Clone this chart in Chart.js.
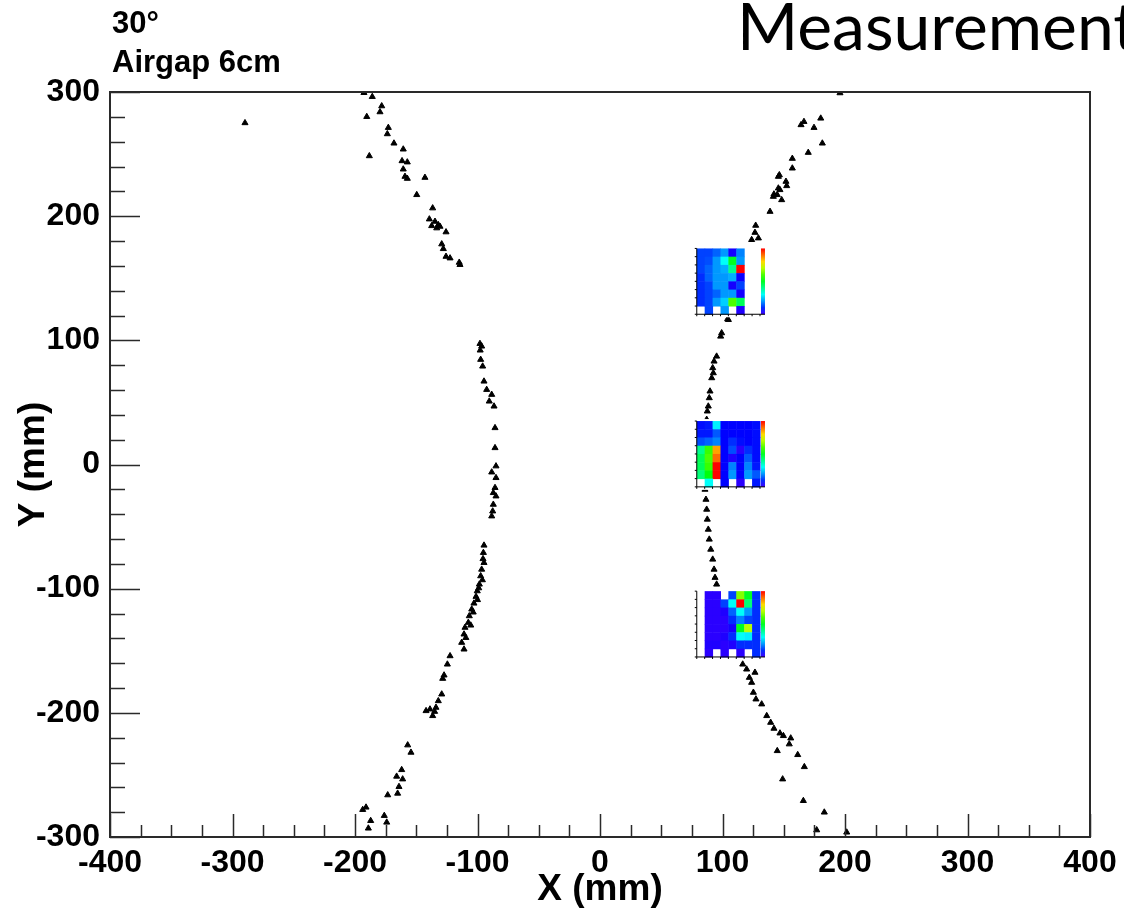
<!DOCTYPE html>
<html>
<head>
<meta charset="utf-8">
<script src="https://cdn.jsdelivr.net/npm/chart.js@4"></script>
<style>
html, body { margin: 0; padding: 0; background: #fff; }
#wrap { position: relative; width: 1124px; height: 923px; }
</style>
</head>
<body>
<div id="wrap"><canvas id="graphs" width="1124" height="923"></canvas></div>
<script>
// hits, [x mm, y mm]
const leftArc = [
  [-192.7, 299.4], [-185.9, 296.2], [-178.2, 288.7], [-179.6, 283.9], [-190.4, 280.1],
  [-172.8, 271.3], [-173.6, 266.2], [-168.2, 258.7], [-160.6, 253.9], [-188.3, 248.5],
  [-161.6, 244.5], [-157.3, 243.5], [-160.6, 237.8], [-159.2, 231.9], [-157.3, 230.3],
  [-142.9, 231.1], [-149.6, 217.2], [-136.6, 206.5], [-139.3, 197.6], [-134.7, 195.7],
  [-132.0, 193.0], [-133.3, 190.4], [-130.6, 191.7], [-137.4, 192.2], [-125.7, 187.2],
  [-129.2, 177.5], [-127.9, 173.7], [-125.7, 167.5], [-122.4, 166.2], [-114.9, 162.7],
  [-114.3, 160.9], [-289.8, 275.1],
  [-98.0, 97.3], [-96.6, 95.2], [-97.8, 92.0], [-97.4, 84.5], [-95.8, 79.1], [-94.7, 67.0],
  [-92.5, 60.3], [-88.4, 56.3], [-90.4, 50.9], [-86.5, 46.9], [-85.7, 29.5],
  [-85.7, 13.4], [-84.9, -1.3], [-88.4, -6.2], [-84.9, -10.7], [-85.7, -18.7],
  [-87.1, -22.8], [-84.9, -25.5], [-87.1, -32.2], [-87.6, -37.6], [-88.4, -41.6],
  [-94.7, -65.1], [-95.2, -71.0], [-94.7, -79.1], [-95.5, -76.0], [-96.6, -84.5],
  [-97.4, -89.8], [-96.0, -93.0], [-98.5, -96.5], [-99.0, -99.5], [-100.2, -101.9],
  [-101.2, -106.4], [-100.0, -109.0], [-102.9, -111.8], [-104.7, -116.6], [-103.5, -119.0],
  [-106.7, -122.0], [-107.5, -127.3], [-105.5, -129.5], [-110.2, -131.3], [-111.0, -136.7],
  [-109.5, -139.5], [-112.9, -143.4], [-111.0, -148.8], [-122.4, -154.2], [-124.6, -160.9],
  [-127.3, -169.7], [-128.4, -172.4], [-129.2, -185.0], [-132.0, -190.4], [-133.9, -195.7],
  [-138.8, -197.1], [-142.0, -198.4], [-136.6, -202.4], [-135.0, -199.0],
  [-157.0, -226.0], [-154.3, -231.9], [-161.9, -245.9], [-166.0, -251.2], [-161.1, -253.4],
  [-164.1, -259.5], [-165.2, -264.9], [-173.3, -266.2], [-191.0, -276.1], [-193.7, -278.0],
  [-176.1, -282.8], [-187.2, -286.9], [-174.1, -288.2], [-189.1, -293.0]
];
const rightArc = [
  [195.9, 299.2], [180.2, 278.8], [166.5, 276.1], [164.1, 273.5], [174.7, 271.3],
  [181.5, 258.7], [170.0, 251.2], [157.0, 246.4], [157.0, 238.6], [146.4, 233.2],
  [145.6, 231.9], [151.8, 227.9], [152.4, 224.4], [145.6, 222.5], [146.9, 221.2],
  [142.0, 217.7], [144.7, 217.2], [141.5, 215.8], [148.3, 213.1], [138.8, 203.7],
  [127.1, 192.5], [126.5, 186.8], [129.3, 182.3], [123.8, 181.0],
  [104.2, 117.2], [104.8, 116.6], [99.3, 105.9], [98.5, 103.2], [95.2, 87.1],
  [93.1, 83.1], [92.0, 77.8], [92.5, 73.7], [91.2, 69.7], [89.8, 59.0],
  [89.2, 53.6], [88.4, 46.9], [87.6, 42.9], [87.1, 36.2],
  [85.7, -20.1], [86.5, -28.2], [87.1, -36.2], [87.6, -44.2], [88.4, -52.3],
  [89.2, -60.3], [90.4, -68.4], [92.0, -76.4], [93.1, -84.5], [93.9, -91.1],
  [95.2, -96.5],
  [116.5, -160.9], [119.7, -164.9], [126.5, -167.5], [121.9, -171.6], [123.8, -175.6],
  [125.2, -183.6], [127.3, -189.0], [132.0, -193.0], [136.1, -202.4], [139.3, -207.8],
  [142.0, -212.6], [146.9, -216.4], [149.7, -218.5], [155.7, -220.4], [154.5, -225.2],
  [144.7, -230.6], [161.4, -233.8], [166.8, -243.5], [149.1, -253.4], [166.0, -270.8],
  [183.1, -280.1], [176.9, -294.4], [201.4, -296.2]
];

const xTickValues = [-400, -300, -200, -100, 0, 100, 200, 300, 400];
const yTickValues = [-300, -200, -100, 0, 100, 200, 300];

// pasted pad pictures, 8x8 bins, rows from top, value 0..1 on the palette, null = empty bin
const pad1 = [
  [0.12, 0.12, 0.15, 0.2, 0.04, 0.18, null, null],
  [0.12, 0.13, 0.2, 0.3, 0.5, 0.2, null, null],
  [0.12, 0.15, 0.2, 0.22, 0.4, 1.0, null, null],
  [0.1, 0.15, 0.2, 0.2, 0.22, 0.05, null, null],
  [0.1, 0.12, 0.2, 0.2, 0.04, 0.12, null, null],
  [0.1, 0.12, 0.15, 0.2, 0.2, 0.04, null, null],
  [0.1, 0.12, 0.2, 0.25, 0.6, 0.45, null, null],
  [null, 0.12, null, 0.2, null, 0.03, null, null]
];
const pad2 = [
  [0.07, 0.08, 0.28, 0.06, 0.06, 0.06, 0.06, 0.07],
  [0.08, 0.08, 0.14, 0.06, 0.06, 0.06, 0.06, 0.07],
  [0.13, 0.15, 0.18, 0.06, 0.1, 0.07, 0.06, 0.07],
  [0.4, 0.58, 0.85, 0.06, 0.13, 0.02, 0.1, 0.07],
  [0.45, 0.6, 0.9, 0.06, 0.03, 0.06, 0.14, 0.07],
  [0.45, 0.58, 1.0, 0.06, 0.18, 0.06, 0.18, 0.08],
  [0.42, 0.52, 1.0, 0.06, 0.2, 0.06, 0.2, 0.14],
  [null, 0.3, null, 0.06, null, 0.02, null, 0.08]
];
const pad3 = [
  [null, 0.02, 0.02, null, 0.12, 0.65, 0.5, 0.1],
  [null, 0.02, 0.02, 0.12, 0.3, 1.0, 0.42, 0.1],
  [null, 0.02, 0.02, 0.03, 0.15, 0.3, 0.2, 0.1],
  [null, 0.02, 0.02, 0.02, 0.1, 0.18, 0.12, 0.1],
  [null, 0.02, 0.02, 0.02, 0.04, 0.5, 0.7, 0.1],
  [null, 0.02, 0.02, 0.03, 0.1, 0.3, 0.28, 0.1],
  [null, 0.03, 0.03, 0.02, 0.03, 0.1, 0.1, 0.1],
  [null, 0.02, null, 0.02, null, 0.02, null, 0.1]
];
// where the pads sit (mm): left, right of bins, top
const padTops = [174, 35, -102];
const padLeft = 79, padRight = 130.6, padHeight = 53;

const FONT = "'Liberation Sans', Arial, sans-serif";
const frameColor = '#2a2a2a';

function palette(t) {
  return `hsl(${255 - 255 * t}, 100%, 50%)`;
}

// ROOT style frame with ticks pointing inwards
const cadre = {
  id: 'cadre',
  afterDatasetsDraw(chart) {
    const { ctx, chartArea: a, scales } = chart;
    const xs = scales.x, ys = scales.y;
    ctx.save();
    ctx.strokeStyle = frameColor;
    ctx.lineWidth = 2;
    ctx.strokeRect(a.left, a.top, a.right - a.left, a.bottom - a.top);
    ctx.lineWidth = 1.5;
    ctx.beginPath();
    for (let v = -400; v <= 400; v += 25) {
      const px = Math.round(xs.getPixelForValue(v)) + 0.5;
      const len = v % 100 === 0 ? 23 : 12;
      ctx.moveTo(px, a.bottom);
      ctx.lineTo(px, a.bottom - len);
    }
    for (let v = -300; v <= 300; v += 20) {
      const py = Math.round(ys.getPixelForValue(v)) + 0.5;
      const len = v % 100 === 0 ? 30 : 15;
      ctx.moveTo(a.left, py);
      ctx.lineTo(a.left + len, py);
    }
    ctx.stroke();
    ctx.restore();
  }
};

// the three little pad maps pasted on the plot
const pads = {
  id: 'pads',
  afterDatasetsDraw(chart) {
    const { ctx, scales } = chart;
    const xs = scales.x, ys = scales.y;
    [pad1, pad2, pad3].forEach((grid, k) => {
      const x0 = xs.getPixelForValue(padLeft);
      const x1 = xs.getPixelForValue(padRight);
      const y0 = ys.getPixelForValue(padTops[k]);
      const y1 = ys.getPixelForValue(padTops[k] - padHeight);
      const cw = (x1 - x0) / 8, ch = (y1 - y0) / 8;
      ctx.save();
      ctx.fillStyle = '#fff';
      ctx.fillRect(x0 - 3, y0 - 2, x1 - x0 + 9, y1 - y0 + 5);
      grid.forEach((row, r) => {
        row.forEach((val, c) => {
          if (val === null) return;
          ctx.fillStyle = palette(val);
          ctx.fillRect(x0 + c * cw, y0 + r * ch, cw + 0.5, ch + 0.5);
        });
      });
      // palette bar
      const g = ctx.createLinearGradient(0, y1, 0, y0);
      for (let i = 0; i <= 10; i++) g.addColorStop(i / 10, palette(i / 10));
      ctx.fillStyle = g;
      ctx.fillRect(x1 + 1, y0, 4, y1 - y0);
      // small axes
      ctx.strokeStyle = '#000';
      ctx.lineWidth = 1;
      ctx.beginPath();
      ctx.moveTo(x0, y0); ctx.lineTo(x0, y1); ctx.lineTo(x1 + 5, y1);
      for (let i = 0; i <= 8; i++) {
        ctx.moveTo(x0 + i * cw, y1); ctx.lineTo(x0 + i * cw, y1 + 2);
        ctx.moveTo(x0, y0 + i * ch); ctx.lineTo(x0 - 2, y0 + i * ch);
      }
      ctx.stroke();
      ctx.restore();
    });
  }
};

const textes = {
  id: 'textes',
  afterDraw(chart) {
    const ctx = chart.ctx;
    ctx.save();
    ctx.fillStyle = '#000';
    ctx.textBaseline = 'alphabetic';
    ctx.font = `bold 31px ${FONT}`;
    ctx.fillText('30°', 112, 33);
    ctx.fillText('Airgap 6cm', 112, 72);
    ctx.font = "66px Lato, 'Open Sans', sans-serif";
    ctx.fillText('Measurement', 737, 50);
    ctx.restore();
  }
};

document.addEventListener('DOMContentLoaded', function() {
  const ctx = document.getElementById('graphs').getContext('2d');
  new Chart(ctx, {
    type: 'scatter',
    data: {
      datasets: [
        { label: 'left', data: leftArc.map(p => ({ x: p[0], y: p[1] })) },
        { label: 'right', data: rightArc.map(p => ({ x: p[0], y: p[1] })) }
      ]
    },
    options: {
      responsive: false,
      devicePixelRatio: 1,
      animation: false,
      layout: { padding: { top: 92, right: 34, left: 0, bottom: 0 } },
      elements: {
        point: { pointStyle: 'triangle', radius: 3.5, backgroundColor: '#000', borderColor: '#000', borderWidth: 1 }
      },
      plugins: { legend: { display: false }, tooltip: { enabled: false } },
      scales: {
        x: {
          type: 'linear',
          min: -400,
          max: 400,
          grid: { display: false, drawTicks: false },
          border: { display: false },
          afterBuildTicks: s => { s.ticks = xTickValues.map(v => ({ value: v })); },
          afterFit: s => { s.height = 86; },
          ticks: {
            color: '#000', padding: 7, maxRotation: 0, autoSkip: false,
            font: { family: FONT, weight: 'bold', size: 32 }
          },
          title: {
            display: true, text: 'X (mm)', color: '#000',
            font: { family: FONT, weight: 'bold', size: 37 },
            padding: { top: 0, bottom: 11 }
          }
        },
        y: {
          type: 'linear',
          min: -300,
          max: 300,
          grid: { display: false, drawTicks: false },
          border: { display: false },
          afterBuildTicks: s => { s.ticks = yTickValues.map(v => ({ value: v })); },
          afterFit: s => { s.width = 110; },
          ticks: {
            color: '#000', padding: 10, autoSkip: false,
            font: { family: FONT, weight: 'bold', size: 32 }
          },
          title: {
            display: true, text: 'Y (mm)', color: '#000',
            font: { family: FONT, weight: 'bold', size: 37 },
            padding: { top: 12, bottom: 0 }
          }
        }
      }
    },
    plugins: [cadre, pads, textes]
  });
});
</script>
</body>
</html>
